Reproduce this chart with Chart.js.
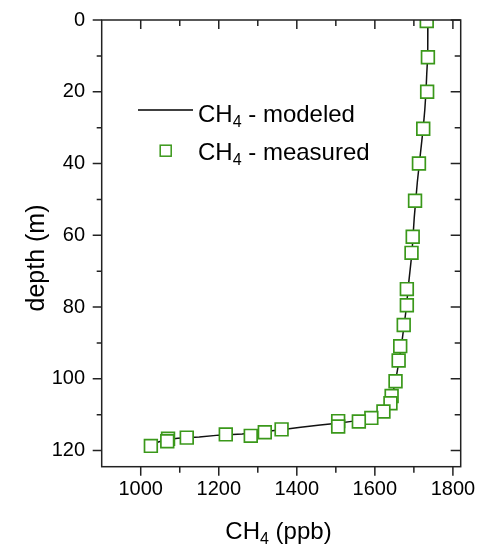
<!DOCTYPE html>
<html>
<head>
<meta charset="utf-8">
<script src="https://cdn.jsdelivr.net/npm/chart.js@4.4.1/dist/chart.umd.min.js"></script>
<style>
    body { margin: 0; background: #fff; }
    canvas { display: block; }
</style>
</head>
<body>
<canvas id="ch4_chart" width="491" height="548" style="width:491px;height:548px"></canvas>
<script>
// measured CH4 profile (ppb vs depth in m)
var measuredCH4 = [1733, 1736, 1734, 1724, 1713, 1703, 1697, 1694, 1682, 1682, 1674, 1665, 1661, 1653,
    1643, 1640, 1622, 1591, 1559, 1506, 1506, 1361, 1318, 1282, 1218, 1118, 1070, 1068, 1026];
var measuredDepth = [0.3, 10.4, 20.0, 30.3, 40.0, 50.4, 60.4, 64.9, 75.0, 79.5, 85.0, 90.9, 94.9, 100.7,
    104.8, 106.8, 109.1, 110.9, 111.9, 111.8, 113.3, 114.1, 114.9, 115.9, 115.5, 116.4, 116.7, 117.4, 118.7];

// modeled CH4 profile
var modeledCH4 = [1736, 1736, 1735, 1733, 1731, 1728, 1724, 1719, 1714, 1709, 1705, 1701, 1698, 1695,
    1690, 1685, 1681, 1675, 1669, 1662, 1654, 1648, 1643, 1637, 1627, 1614, 1595, 1572, 1545, 1510,
    1460, 1410, 1355, 1300, 1260, 1200, 1150, 1095, 1065, 1045, 1030];
var modeledDepth = [0, 5, 10, 15, 20, 25, 30, 35, 40, 45, 50, 55, 60, 65,
    70, 75, 80, 85, 90, 95, 100, 103, 105, 107, 108.5, 109.5, 110.4, 111.2, 111.8, 112.3,
    112.9, 113.5, 114.3, 114.9, 115.4, 115.7, 116.2, 116.6, 117.0, 117.6, 118.3];

// tick labels
var xTicks = [1000, 1200, 1400, 1600, 1800];
var xMinorTicks = [1100, 1300, 1500, 1700];
var yTicks = [0, 20, 40, 60, 80, 100, 120];
var yMinorTicks = [10, 30, 50, 70, 90, 110];

var green = '#3a981a';
var fontFamily = "'Liberation Sans', Arial, sans-serif";

function toPoints(xs, ys) {
    return xs.map(function (x, i) { return { x: x, y: ys[i] }; });
}

// draws "CH" + subscript 4 + rest
function drawCH4(ctx, x, y, size, subSize, rest) {
    ctx.font = size + 'px ' + fontFamily;
    ctx.fillText('CH', x, y);
    x += ctx.measureText('CH').width;
    ctx.font = subSize + 'px ' + fontFamily;
    ctx.fillText('4', x, y + 5);
    x += ctx.measureText('4').width;
    ctx.font = size + 'px ' + fontFamily;
    ctx.fillText(rest, x, y);
}

function widthCH4(ctx, size, subSize, rest) {
    ctx.font = size + 'px ' + fontFamily;
    var w = ctx.measureText('CH').width + ctx.measureText(rest).width;
    ctx.font = subSize + 'px ' + fontFamily;
    return w + ctx.measureText('4').width;
}

// frame, tick marks, legend and axis titles
var frameAndTicks = {
    id: 'frameAndTicks',
    afterDraw: function (chart) {
        var ctx = chart.ctx;
        var a = chart.chartArea;
        var xs = chart.scales.x;
        var ys = chart.scales.y;
        ctx.save();
        ctx.strokeStyle = '#222';
        ctx.lineWidth = 1.5;
        ctx.strokeRect(a.left, a.top, a.right - a.left, a.bottom - a.top);

        ctx.beginPath();
        function xTick(v, len) {
            var px = xs.getPixelForValue(v);
            ctx.moveTo(px, a.bottom); ctx.lineTo(px, a.bottom + len);   // outward
            ctx.moveTo(px, a.top); ctx.lineTo(px, a.top + len);         // inward
        }
        function yTick(v, lenL, lenR) {
            var py = ys.getPixelForValue(v);
            ctx.moveTo(a.left, py); ctx.lineTo(a.left - lenL, py);      // outward
            ctx.moveTo(a.right, py); ctx.lineTo(a.right - lenR, py);    // inward
        }
        xTicks.forEach(function (v) { xTick(v, 9); });
        xMinorTicks.forEach(function (v) { xTick(v, 6); });
        yTicks.forEach(function (v) { yTick(v, 9, 10); });
        yMinorTicks.forEach(function (v) { yTick(v, 5, 6); });
        ctx.stroke();

        // legend
        ctx.fillStyle = '#000';
        ctx.textAlign = 'left';
        ctx.textBaseline = 'alphabetic';
        ctx.strokeStyle = '#000';
        ctx.lineWidth = 1.5;
        ctx.beginPath();
        ctx.moveTo(138, 110);
        ctx.lineTo(193, 110);
        ctx.stroke();
        drawCH4(ctx, 198, 121.5, 24, 16, ' - modeled');

        ctx.strokeStyle = green;
        ctx.fillStyle = '#fff';
        ctx.lineWidth = 1.5;
        ctx.fillRect(160.2, 145.2, 11, 11);
        ctx.strokeRect(160.2, 145.2, 11, 11);
        ctx.fillStyle = '#000';
        drawCH4(ctx, 198, 160, 24, 16, ' - measured');

        // x axis title
        var w = widthCH4(ctx, 24, 16, ' (ppb)');
        drawCH4(ctx, 278.5 - w / 2, 539, 24, 16, ' (ppb)');

        // y axis title
        ctx.translate(44, 258);
        ctx.rotate(-Math.PI / 2);
        ctx.textAlign = 'center';
        ctx.font = '25px ' + fontFamily;
        ctx.fillText('depth (m)', 0, 0);
        ctx.restore();
    }
};

var ctx = document.getElementById('ch4_chart').getContext('2d');
var chart = new Chart(ctx, {
    type: 'scatter',
    data: {
        datasets: [{
            label: 'CH4 - measured',
            data: toPoints(measuredCH4, measuredDepth),
            pointStyle: 'rect',
            pointRadius: 9,
            pointBorderWidth: 1.7,
            pointBorderColor: green,
            pointBackgroundColor: '#fff',
            showLine: false,
            clip: 0,
            order: 0
        }, {
            label: 'CH4 - modeled',
            data: toPoints(modeledCH4, modeledDepth),
            showLine: true,
            borderColor: '#111',
            borderWidth: 1.5,
            pointRadius: 0,
            tension: 0,
            order: 1
        }]
    },
    options: {
        responsive: false,
        animation: false,
        events: [],
        layout: {
            padding: { left: 0, top: 20, right: 30.3, bottom: 0 }
        },
        scales: {
            x: {
                type: 'linear',
                min: 900,
                max: 1820,
                grid: { display: false, drawTicks: false },
                border: { display: false },
                afterBuildTicks: function (axis) {
                    axis.ticks = xTicks.map(function (v) { return { value: v }; });
                },
                afterFit: function (axis) {
                    axis.height = 81.3;
                    axis.paddingLeft = 0;
                    axis.paddingRight = 0;
                },
                ticks: {
                    autoSkip: false,
                    maxRotation: 0,
                    padding: 11,
                    color: '#000',
                    font: { family: fontFamily, size: 20 },
                    callback: function (value) {
                        return String(value);
                    }
                }
            },
            y: {
                type: 'linear',
                reverse: true,
                min: 0,
                max: 124.5,
                grid: { display: false, drawTicks: false },
                border: { display: false },
                afterBuildTicks: function (axis) {
                    axis.ticks = yTicks.map(function (v) { return { value: v }; });
                },
                afterFit: function (axis) {
                    axis.width = 101.7;
                    axis.paddingTop = 0;
                    axis.paddingBottom = 0;
                },
                ticks: {
                    autoSkip: false,
                    padding: 16.7,
                    color: '#000',
                    font: { family: fontFamily, size: 20 },
                    callback: function (value) {
                        return String(value);
                    }
                }
            }
        },
        plugins: {
            legend: { display: false },
            tooltip: { enabled: false }
        }
    },
    plugins: [frameAndTicks]
});
</script>
</body>
</html>
